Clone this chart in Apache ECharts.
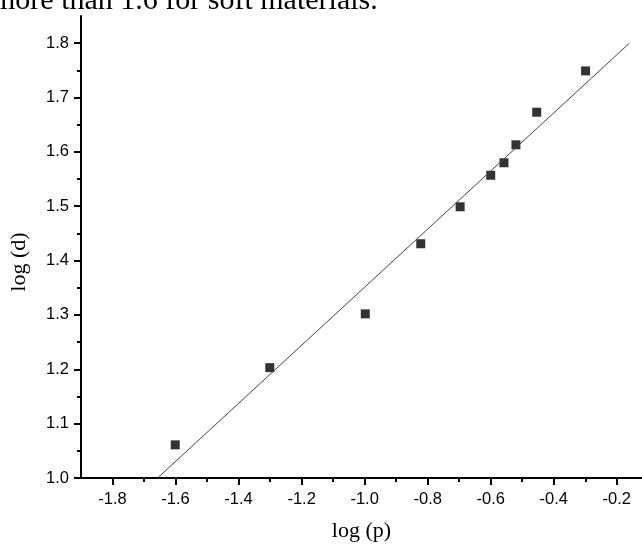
<!DOCTYPE html>
<html>
<head>
<meta charset="utf-8">
<script src="https://cdn.jsdelivr.net/npm/echarts@6/dist/echarts.min.js"></script>
<style>
html,body{margin:0;padding:0;background:#fff;}
#chart{width:642px;height:547px;}
</style>
</head>
<body>
<div id="chart"></div>
<script>
// Data points (log p, log d)
const logP = [-1.601, -1.301, -0.998, -0.822, -0.697, -0.600, -0.558, -0.520, -0.454, -0.299];
const logD = [1.061, 1.203, 1.302, 1.431, 1.499, 1.557, 1.580, 1.613, 1.673, 1.749];
// Fitted line endpoints
const fitX = [-1.657, -0.160];
const fitY = [1.000, 1.800];
// Axis ticks
const xMajorTicks = [-1.8, -1.6, -1.4, -1.2, -1.0, -0.8, -0.6, -0.4, -0.2];
const xMinorTicks = [-1.7, -1.5, -1.3, -1.1, -0.9, -0.7, -0.5, -0.3];
const yMajorTicks = [1.0, 1.1, 1.2, 1.3, 1.4, 1.5, 1.6, 1.7, 1.8];
const yMinorTicks = [1.05, 1.15, 1.25, 1.35, 1.45, 1.55, 1.65, 1.75];
const xName = 'log (p)';
const yName = 'log (d)';
const topText = 'more than 1.6 for soft materials.';

const chart = echarts.init(document.getElementById('chart'), null, {renderer: 'canvas'});
const serif = "'Liberation Serif', 'Times New Roman', serif";
const lab = {fontFamily: "'Liberation Sans', Arial, sans-serif", fontSize: 16.5, color: '#000'};
const xMin = -1.9, xMax = -0.12, yMin = 1.0, yMax = 1.85;

chart.setOption({
  animation: false,
  backgroundColor: '#fff',
  grid: {left: 81, right: 0, top: 16, bottom: 67, containLabel: false},
  graphic: [{
    type: 'text', left: -8, top: -14,
    style: {text: topText, font: '30px ' + serif, fill: '#000'}
  }],
  xAxis: [{
    type: 'value', min: xMin, max: xMax, position: 'bottom',
    name: xName, nameLocation: 'middle', nameGap: 42,
    nameTextStyle: {fontFamily: serif, fontSize: 22, color: '#000'},
    axisLine: {show: true, onZero: false, lineStyle: {color: '#000', width: 2}},
    axisTick: {show: true, inside: false, length: 7, customValues: xMajorTicks, lineStyle: {color: '#000', width: 2}},
    axisLabel: Object.assign({margin: 13, customValues: xMajorTicks, formatter: v => v.toFixed(1)}, lab),
    splitLine: {show: false}
  }, {
    type: 'value', min: xMin, max: xMax, position: 'bottom', offset: 0,
    axisLine: {show: false},
    axisTick: {show: true, inside: false, length: 4, customValues: xMinorTicks, lineStyle: {color: '#000', width: 2}},
    axisLabel: {show: false},
    splitLine: {show: false}
  }],
  yAxis: [{
    type: 'value', min: yMin, max: yMax, position: 'left',
    name: yName, nameLocation: 'middle', nameGap: 51,
    nameTextStyle: {fontFamily: serif, fontSize: 22, color: '#000', padding: [0, 30, 0, 0]},
    axisLine: {show: true, onZero: false, lineStyle: {color: '#000', width: 2}},
    axisTick: {show: true, inside: false, length: 7, customValues: yMajorTicks, lineStyle: {color: '#000', width: 2}},
    axisLabel: Object.assign({margin: 12, customValues: yMajorTicks, formatter: v => v.toFixed(1)}, lab),
    splitLine: {show: false}
  }, {
    type: 'value', min: yMin, max: yMax, position: 'left', offset: 0,
    axisLine: {show: false},
    axisTick: {show: true, inside: false, length: 4, customValues: yMinorTicks, lineStyle: {color: '#000', width: 2}},
    axisLabel: {show: false},
    splitLine: {show: false}
  }],
  series: [{
    type: 'line', xAxisIndex: 0, yAxisIndex: 0,
    data: fitX.map((x, i) => [x, fitY[i]]),
    symbol: 'none', lineStyle: {color: '#444', width: 1}, silent: true
  }, {
    type: 'scatter', xAxisIndex: 0, yAxisIndex: 0,
    data: logP.map((x, i) => [x, logD[i]]),
    symbol: 'rect', symbolSize: 9, itemStyle: {color: '#000'}
  }]
});
</script>
</body>
</html>
